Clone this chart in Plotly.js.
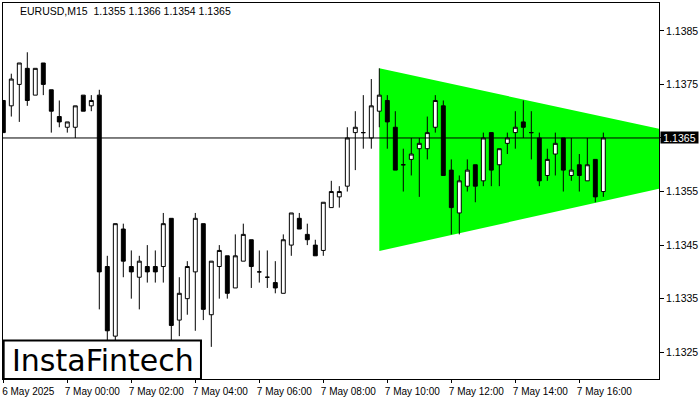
<!DOCTYPE html>
<html>
<head>
<meta charset="utf-8">
<script src="https://cdn.plot.ly/plotly-3.0.1.min.js"></script>
<style>
  html, body { margin: 0; padding: 0; background: #ffffff; }
  #chart { width: 700px; height: 400px; }
</style>
</head>
<body>
<div id="chart"></div>
<script>
// ---- Data (EURUSD, M15) ----
const startTime = '2025-05-06T22:00:00Z';   // first visible bar
const barMinutes = 15;

const opens = [
  1.1372, 1.1371, 1.1375, 1.1378, 1.1373, 1.1379, 1.1374, 1.1369, 1.1367, 1.1367,
  1.1373, 1.1371, 1.1373, 1.1341, 1.1328, 1.1348, 1.1341, 1.1339, 1.1341, 1.1341,
  1.1341, 1.1350, 1.1331, 1.1335, 1.1340, 1.1349, 1.1332, 1.1341, 1.1343, 1.1337,
  1.1342, 1.1346, 1.1340, 1.1339, 1.1338, 1.1336, 1.1345, 1.1350, 1.1347, 1.1345,
  1.1344, 1.1352, 1.1354, 1.1356, 1.1366, 1.1366, 1.1365, 1.1370, 1.1372, 1.1367,
  1.1360, 1.1361, 1.1363, 1.1363, 1.1367, 1.1371, 1.1359, 1.1351, 1.1356, 1.1360,
  1.1357, 1.1366, 1.1360, 1.1364, 1.1366, 1.1368, 1.1366, 1.1365, 1.1358, 1.1362,
  1.1365, 1.1358, 1.1360, 1.1357, 1.1361, 1.1355
];
const highs = [
  1.1372, 1.1377, 1.1379, 1.1381, 1.1378, 1.1379, 1.1374, 1.1372, 1.1368, 1.1371,
  1.1373, 1.1373, 1.1374, 1.1343, 1.1349, 1.1349, 1.1344, 1.1343, 1.1345, 1.1344,
  1.1351, 1.1350, 1.1339, 1.1342, 1.1351, 1.1349, 1.1342, 1.1345, 1.1343, 1.1347,
  1.1349, 1.1346, 1.1344, 1.1344, 1.1342, 1.1347, 1.1351, 1.1351, 1.1349, 1.1346,
  1.1353, 1.1357, 1.1356, 1.1367, 1.1370, 1.1373, 1.1376, 1.1378, 1.1373, 1.1370,
  1.1363, 1.1365, 1.1365, 1.1369, 1.1373, 1.1372, 1.1361, 1.1358, 1.1361, 1.1360,
  1.1366, 1.1366, 1.1363, 1.1366, 1.1370, 1.1372, 1.1370, 1.1366, 1.1363, 1.1366,
  1.1365, 1.1365, 1.1362, 1.1365, 1.1361, 1.1366
];
const lows = [
  1.1366, 1.1369, 1.1368, 1.1371, 1.1373, 1.1373, 1.1366, 1.1367, 1.1366, 1.1365,
  1.1370, 1.1370, 1.1333, 1.1327, 1.1327, 1.1339, 1.1335, 1.1333, 1.1338, 1.1338,
  1.1338, 1.1327, 1.1328, 1.1332, 1.1329, 1.1331, 1.1326, 1.1335, 1.1335, 1.1337,
  1.1342, 1.1337, 1.1338, 1.1337, 1.1336, 1.1336, 1.1343, 1.1348, 1.1345, 1.1343,
  1.1343, 1.1352, 1.1352, 1.1355, 1.1359, 1.1363, 1.1363, 1.1367, 1.1363, 1.1359,
  1.1355, 1.1358, 1.1354, 1.1361, 1.1366, 1.1358, 1.1347, 1.1347, 1.1355, 1.1353,
  1.1356, 1.1356, 1.1356, 1.1362, 1.1363, 1.1365, 1.1361, 1.1356, 1.1357, 1.1358,
  1.1355, 1.1357, 1.1355, 1.1357, 1.1353, 1.1354
];
const closes = [
  1.1366, 1.1376, 1.1379, 1.1372, 1.1378, 1.1375, 1.1370, 1.1368, 1.1368, 1.1371,
  1.1370, 1.1372, 1.1340, 1.1329, 1.1349, 1.1342, 1.1340, 1.1342, 1.1340, 1.1340,
  1.1349, 1.1330, 1.1336, 1.1341, 1.1350, 1.1333, 1.1342, 1.1344, 1.1336, 1.1343,
  1.1347, 1.1341, 1.1340, 1.1339, 1.1337, 1.1346, 1.1351, 1.1348, 1.1346, 1.1343,
  1.1353, 1.1355, 1.1355, 1.1365, 1.1367, 1.1366, 1.1371, 1.1373, 1.1368, 1.1359,
  1.1360, 1.1362, 1.1364, 1.1366, 1.1372, 1.1358, 1.1352, 1.1357, 1.1359, 1.1356,
  1.1365, 1.1359, 1.1363, 1.1365, 1.1367, 1.1367, 1.1366, 1.1357, 1.1361, 1.1364,
  1.1359, 1.1359, 1.1358, 1.1360, 1.1354, 1.1365
];

// Symmetrical triangle pattern (left edge top, apex, left edge bottom)
const triangleTimes  = ['2025-05-07 09:45', '2025-05-07 22:45', '2025-05-07 09:45'];
const trianglePrices = [1.13780, 1.13612, 1.13439];

const currentPrice = 1.1365;
const headerText = 'EURUSD,M15\u00a0\u00a01.1355 1.1366 1.1354 1.1365';

const tickTimes  = ['2025-05-06 22:00', '2025-05-07 00:00', '2025-05-07 02:00', '2025-05-07 04:00',
                    '2025-05-07 06:00', '2025-05-07 08:00', '2025-05-07 10:00', '2025-05-07 12:00',
                    '2025-05-07 14:00', '2025-05-07 16:00'];
const tickLabels = ['6 May 2025', '7 May 00:00', '7 May 02:00', '7 May 04:00', '7 May 06:00',
                    '7 May 08:00', '7 May 10:00', '7 May 12:00', '7 May 14:00', '7 May 16:00'];
const priceTicks = [1.1325, 1.1335, 1.1345, 1.1355, 1.1365, 1.1375, 1.1385];

// ---- Build bar times ----
function fmt(d) {
  const p = n => String(n).padStart(2, '0');
  return d.getUTCFullYear() + '-' + p(d.getUTCMonth() + 1) + '-' + p(d.getUTCDate()) + ' ' +
         p(d.getUTCHours()) + ':' + p(d.getUTCMinutes());
}
const t0 = new Date(startTime).getTime();
const times = opens.map((_, i) => fmt(new Date(t0 + i * barMinutes * 60000)));

// Triangle as a shape path (underscored dates for date axes)
const trianglePath = triangleTimes.map((t, i) =>
  (i === 0 ? 'M ' : 'L ') + t.replace(' ', '_') + ',' + trianglePrices[i]).join(' ') + ' Z';

const FONT = '"Liberation Sans", Arial, sans-serif';

const traces = [
  {
    type: 'candlestick',
    x: times, open: opens, high: highs, low: lows, close: closes,
    increasing: { line: { color: '#000000', width: 1 }, fillcolor: '#ffffff' },
    decreasing: { line: { color: '#000000', width: 1 }, fillcolor: '#000000' },
    whiskerwidth: 0,
    showlegend: false
  }
];

const layout = {
  width: 700, height: 400,
  margin: { l: 3, r: 41, t: 3, b: 21 },
  paper_bgcolor: '#ffffff', plot_bgcolor: '#ffffff',
  showlegend: false,
  font: { family: FONT, size: 10, color: '#000000' },
  xaxis: {
    type: 'date',
    range: ['2025-05-06 21:59:26', '2025-05-07 18:29:24'],
    rangeslider: { visible: false },
    showgrid: false, zeroline: false,
    showline: true, linecolor: '#000000', linewidth: 1, mirror: true,
    ticks: 'outside', ticklen: 3, tickcolor: '#000000',
    tickvals: tickTimes, ticktext: tickLabels,
    ticklabelshift: 25, ticklabeloverflow: 'allow',
    tickfont: { family: FONT, size: 10, color: '#000000' },
    fixedrange: true
  },
  yaxis: {
    side: 'right',
    range: [1.13200, 1.13902],
    showgrid: false, zeroline: false,
    showline: true, linecolor: '#000000', linewidth: 1, mirror: true,
    ticks: 'outside', ticklen: 4, tickcolor: '#000000',
    tickvals: priceTicks,
    ticktext: priceTicks.map(v => (v === currentPrice ? '' : v.toFixed(4))),
    tickfont: { family: FONT, size: 10.5, color: '#000000' },
    fixedrange: true
  },
  shapes: [
    { type: 'path', xref: 'x', yref: 'y', path: trianglePath, opacity: 1,
      fillcolor: '#00ff00', line: { width: 0 }, layer: 'below' },
    { type: 'line', xref: 'paper', yref: 'y', x0: 0, x1: 1, y0: currentPrice, y1: currentPrice,
      line: { color: '#000000', width: 1 }, layer: 'above' },
    { type: 'rect', xref: 'paper', yref: 'paper', x0: 0.001, x1: 0.3018, y0: 0, y1: 0.1024,
      line: { color: '#000000', width: 2 }, fillcolor: '#ffffff', layer: 'above' }
  ],
  annotations: [
    { xref: 'paper', yref: 'paper', x: 0.0229, y: 0.979, xanchor: 'left', yanchor: 'middle',
      text: headerText, showarrow: false, font: { family: FONT, size: 10.5, color: '#000000' } },
    { xref: 'paper', yref: 'y', x: 1, y: currentPrice, xanchor: 'left', yanchor: 'middle', xshift: 1,
      text: currentPrice.toFixed(4), showarrow: false, bgcolor: '#000000', width: 37, height: 11,
      borderpad: 0, font: { family: FONT, size: 10.5, color: '#ffffff' } },
    { xref: 'paper', yref: 'paper', x: 0.153, y: 0.0505, xanchor: 'center', yanchor: 'middle',
      text: 'InstaFintech', showarrow: false,
      font: { family: '"DejaVu Sans", sans-serif', size: 30, color: '#000000' } }
  ]
};

Plotly.newPlot('chart', traces, layout, { displayModeBar: false, staticPlot: true });
</script>
</body>
</html>
